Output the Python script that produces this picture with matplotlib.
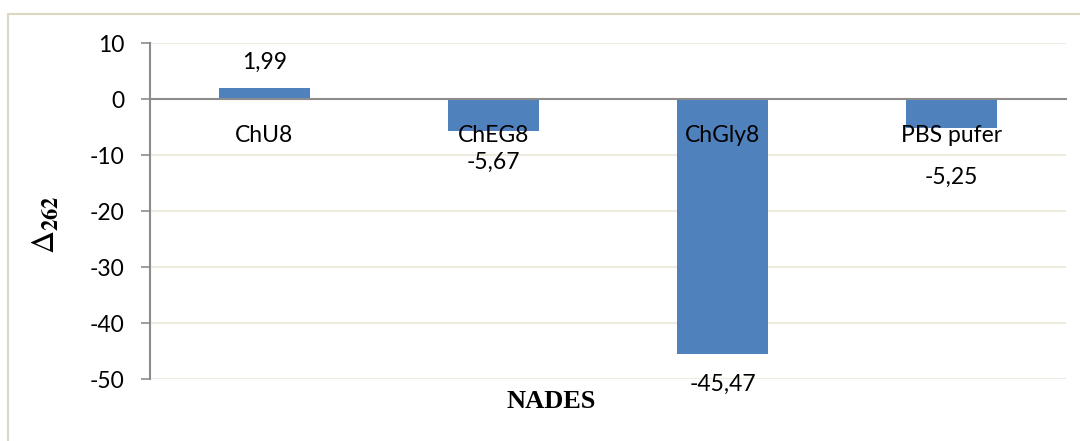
import matplotlib.pyplot as plt
from matplotlib.patches import Rectangle

# data
categories = ['ChU8', 'ChEG8', 'ChGly8', 'PBS pufer']
values = [1.99, -5.67, -45.47, -5.25]
value_labels = ['1,99', '-5,67', '-45,47', '-5,25']
label_offsets = [26, -32, -31, -49]  # px from bar end, as Excel shuffled them
yticks = [10, 0, -10, -20, -30, -40, -50]

bar_color = '#4f81bd'
grid_color = '#eeeae0'
axis_color = '#8c8c8c'
sans = ['Lato', 'DejaVu Sans']
serif = ['Liberation Serif', 'DejaVu Serif']
plt.rcParams['mathtext.fontset'] = 'stix'

fig = plt.figure(figsize=(10.8, 4.41), dpi=100)
# outer chart border (left and top visible, rest runs off the picture)
fig.patches.append(Rectangle((8 / 1080, -0.1), 1.2, 1 - 14 / 441 + 0.1,
                             transform=fig.transFigure, fill=False,
                             edgecolor='#dcd7c2', linewidth=1.5))

ax = fig.add_axes([150 / 1080, 1 - 379 / 441, (1066 - 150) / 1080, (379 - 43) / 441])
x = list(range(len(categories)))
ax.bar(x, values, width=0.4, color=bar_color, zorder=3)
ax.set_xlim(-0.5, len(categories) - 0.5)
ax.set_ylim(-50, 10)

ax.set_yticks(yticks)
ax.set_yticklabels([str(t) for t in yticks], fontfamily=sans, fontsize=16.5)
ax.tick_params(axis='y', length=6.5, width=1.2, color=axis_color, pad=12, direction='out')
ax.yaxis.grid(True, color=grid_color, linewidth=1.5, zorder=0)

# category labels sit just under the zero line, on top of the bars
ax.spines['bottom'].set_position(('data', 0))
ax.spines['bottom'].set_color(axis_color)
ax.spines['bottom'].set_linewidth(1.5)
ax.spines['bottom'].set_zorder(4)
ax.set_xticks(x)
ax.set_xticklabels(categories, fontfamily=sans, fontsize=16.5)
ax.tick_params(axis='x', length=0, pad=19)
ax.xaxis.set_zorder(5)

ax.spines['left'].set_color(axis_color)
ax.spines['left'].set_linewidth(1.5)
ax.spines['top'].set_visible(False)
ax.spines['right'].set_visible(False)

for i, (v, txt, off) in enumerate(zip(values, value_labels, label_offsets)):
    ax.annotate(txt, xy=(i, v), xytext=(0, off), textcoords='offset pixels',
                ha='center', va='center', fontfamily=sans, fontsize=16.5, zorder=5)

fig.text(46 / 1080, 1 - 225 / 441, r'$\Delta_{\mathbf{262}}$', rotation=90,
         ha='center', va='center', fontsize=23)
fig.text(551 / 1080, 1 - 401 / 441, 'NADES', ha='center', va='center',
         fontsize=19, fontweight='bold', fontfamily=serif)

fig.savefig('out.png', dpi=100)
